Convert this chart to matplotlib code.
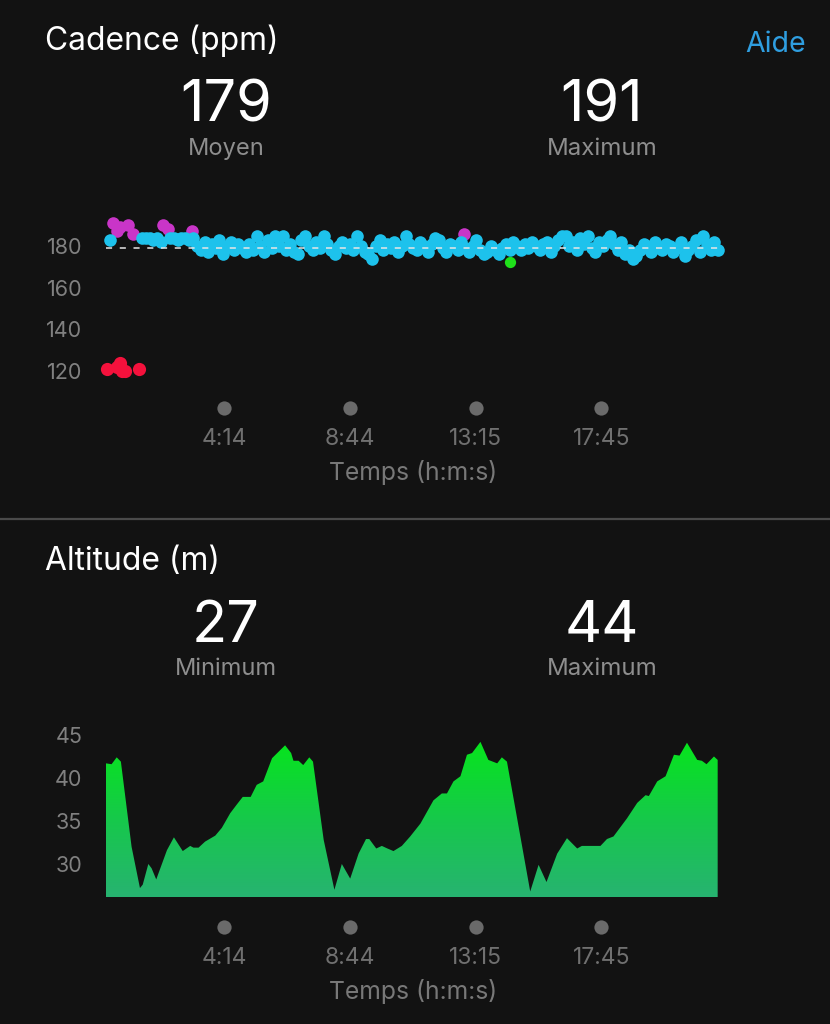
import matplotlib
matplotlib.use("Agg")
import matplotlib.pyplot as plt
import numpy as np
from matplotlib.colors import LinearSegmentedColormap
from matplotlib.lines import Line2D

plt.rcParams['font.family'] = ['Inter', 'DejaVu Sans']

# --- donnees cadence (temps en s, valeur en ppm)
red_t = [2, 23, 30, 34, 41, 72]
red_v = [121, 122, 124, 120, 120, 121]
mag_t = [16, 23, 30, 48, 59, 123, 134, 184, 770]
mag_v = [191, 187, 189, 190, 186, 190, 188, 187, 186]
green_t = [868]
green_v = [172.5]
cyan_t = [9, 78, 86, 94, 102, 110, 118, 138, 146, 154, 162, 170, 178,
          188, 196, 204, 212, 220, 228, 236, 244, 252, 260,
          268, 276, 284, 292, 300, 308, 316, 324, 332, 340,
          348, 356, 364, 372, 380, 388, 396, 404, 412, 420,
          428, 436, 444, 452, 460, 468, 476, 484, 492, 500,
          508, 516, 524, 532, 540, 548, 556, 564, 572, 580,
          588, 596, 604, 612, 620, 628, 636, 644, 652, 660,
          668, 676, 684, 692, 700, 708, 716, 724, 732, 740,
          748, 756, 764, 772, 780, 788, 796, 804, 812, 820,
          828, 836, 844, 852, 860, 868, 876, 884, 892, 900,
          908, 916, 924, 932, 940, 948, 956, 964, 972, 980,
          988, 996, 1004, 1012, 1020, 1028, 1036, 1044, 1052, 1060,
          1068, 1076, 1084, 1092, 1100, 1108, 1116, 1124, 1132, 1140,
          1148, 1156, 1164, 1172, 1180, 1188, 1196, 1204, 1212, 1220,
          1228, 1236, 1244, 1252, 1260, 1268, 1276, 1284, 1292, 1300,
          1308, 1316]
cyan_v = [183, 184, 184, 184, 183, 184, 182, 184, 184, 183, 184, 184, 183,
          184, 180, 178, 182, 177, 181, 179, 183, 176, 180,
          182, 178, 181, 179, 177, 181, 178, 185, 180, 177,
          183, 179, 185, 180, 185, 178, 181, 177, 176, 183,
          185, 180, 178, 182, 179, 185, 181, 178, 176, 180,
          182, 179, 181, 178, 185, 180, 177, 176, 174, 180,
          183, 178, 181, 179, 182, 177, 180, 185, 181, 179,
          178, 182, 180, 177, 181, 184, 183, 179, 177, 181,
          180, 178, 182, 179, 177, 180, 183, 178, 176, 177,
          180, 178, 176, 179, 181, 178, 182, 180, 178, 181,
          179, 182, 180, 178, 181, 182, 177, 180, 183, 185,
          185, 180, 182, 178, 184, 181, 185, 179, 177, 182,
          180, 183, 185, 181, 178, 182, 176, 178, 174, 175,
          178, 181, 180, 177, 182, 179, 178, 181, 180, 177,
          179, 182, 175, 178, 180, 183, 177, 185, 181, 178,
          182, 178]
cad_avg = 179
cad_ticks = [120, 140, 160, 180]

# --- donnees altitude
alt_t = [0, 12, 23, 32, 55, 73, 79, 91, 98, 108, 131, 146, 165, 181, 188, 199,
         213, 235, 249, 267, 281, 294, 311, 324, 338, 357, 385, 398, 403, 414,
         424, 437, 445, 468, 491, 507, 525, 543, 559, 566, 581, 593, 605, 618,
         636, 654, 676, 704, 722, 733, 747, 762, 776, 787, 805, 822, 841, 851,
         862, 912, 930, 947, 970, 991, 1013, 1023, 1063, 1077, 1091, 1120, 1142,
         1160, 1167, 1185, 1203, 1221, 1233, 1249, 1271, 1281, 1291, 1307, 1315]
alt_v = [41.7, 41.6, 42.4, 41.9, 32.0, 27.2, 27.6, 30.0, 29.5, 28.2, 31.6, 33.1,
         31.5, 32.1, 31.9, 31.9, 32.6, 33.3, 34.2, 35.9, 36.9, 37.8, 37.8, 39.2,
         39.6, 42.3, 43.8, 42.9, 42.0, 42.0, 41.5, 42.4, 41.9, 32.8, 27.0, 30.0,
         28.3, 31.2, 32.9, 32.9, 31.8, 32.1, 31.8, 31.5, 32.1, 33.2, 34.7, 37.4,
         38.2, 38.2, 39.6, 40.2, 42.7, 42.9, 44.2, 42.1, 41.7, 42.4, 41.9, 26.8,
         29.9, 27.9, 31.2, 33.0, 31.8, 32.1, 32.1, 32.9, 33.2, 35.3, 37.1, 38.0,
         37.9, 39.6, 40.2, 42.7, 42.6, 44.1, 42.1, 42.0, 41.6, 42.5, 42.1]
alt_ticks = [30, 35, 40, 45]

time_ticks = [254, 524, 795, 1065]
time_labels = ['4:14', '8:44', '13:15', '17:45']

BG = '#121212'
W, H = 830, 1024
fig = plt.figure(figsize=(8.3, 10.24), dpi=100, facecolor=BG)


def box(x0, y0, x1, y1):
    return [x0 / W, 1 - y1 / H, (x1 - x0) / W, (y1 - y0) / H]


def txt(x, y, s, **kw):
    fig.text(x / W, 1 - y / H, s, **kw)


def style(ax, yticks):
    ax.set_facecolor(BG)
    for sp in ax.spines.values():
        sp.set_visible(False)
    ax.set_yticks(yticks)
    ax.tick_params(axis='y', length=0, pad=17, labelsize=15.5, labelcolor='#808080')
    ax.set_xticks([])
    ax.set_xlim(0, 1320)


def time_axis(ax, top, bottom, off):
    # points gris sous l'axe + libelles de temps
    ax.scatter(time_ticks, [-(408 + off - bottom) / (bottom - top)] * 4,
               s=105, color='#6a6a6a', lw=0, transform=ax.get_xaxis_transform(),
               clip_on=False)
    for t, lab in zip(time_ticks, time_labels):
        x = 106 + t * 614 / 1320
        txt(x, 445 + off, lab, ha='center', va='baseline', fontsize=16.5, color='#707070')
    txt(413, 480 + off, 'Temps (h:m:s)', ha='center', va='baseline', fontsize=17.8, color='#787878')


def header(off, title, v1, l1, v2, l2):
    txt(45, 50 + off, title, ha='left', va='baseline', fontsize=22.9, color='white')
    txt(226, 122 + off, v1, ha='center', va='baseline', fontsize=41.5, color='white')
    txt(226, 155 + off, l1, ha='center', va='baseline', fontsize=17, color='#8e8e8e')
    txt(602, 122 + off, v2, ha='center', va='baseline', fontsize=41.5, color='white')
    txt(602, 155 + off, l2, ha='center', va='baseline', fontsize=17.3, color='#8e8e8e')


# ---------- Cadence
header(0, 'Cadence (ppm)', '179', 'Moyen', '191', 'Maximum')
txt(806, 52, 'Aide', ha='right', va='baseline', fontsize=20.5, color='#2f9ee0')

ax1 = fig.add_axes(box(106, 210, 720, 385))
style(ax1, cad_ticks)
ax1.set_ylim(113.3, 197.3)
ms = 82
ax1.scatter(mag_t, mag_v, s=ms, color='#c935c8', lw=0, clip_on=False, zorder=2)
ax1.scatter(cyan_t, cyan_v, s=ms, color='#1dc2ec', lw=0, clip_on=False, zorder=3)
ax1.scatter(red_t, red_v, s=ms * 1.1, color='#f4113c', lw=0, clip_on=False, zorder=4)
ax1.scatter(green_t, green_v, s=ms * 0.8, color='#1fe01a', lw=0, clip_on=False, zorder=4)
ax1.axhline(cad_avg, color='#e6e6e6', lw=1.1, linestyle=(0, (4, 5)), zorder=5)
time_axis(ax1, 210, 385, 0)

# separateur
fig.add_artist(Line2D([0, 1], [1 - 519 / H, 1 - 519 / H], color='#4a4a4a', lw=1.6,
                      transform=fig.transFigure))

# ---------- Altitude
header(520, 'Altitude (m)', '27', 'Minimum', '44', 'Maximum')

ax2 = fig.add_axes(box(106, 720, 720, 897))
style(ax2, alt_ticks)
y0 = 26.16
poly = ax2.fill_between(alt_t, alt_v, y0, facecolor='none', lw=0)
cmap = LinearSegmentedColormap.from_list('alt', ['#27b371', '#16c94a', '#06e61b'])
grad = np.linspace(0, 1, 256).reshape(-1, 1)
im = ax2.imshow(grad, cmap=cmap, origin='lower', aspect='auto',
                extent=[0, 1320, y0, 44.5], zorder=2)
im.set_clip_path(poly.get_paths()[0], transform=ax2.transData)
ax2.set_xlim(0, 1320)
ax2.set_ylim(y0, 46.74)
time_axis(ax2, 720, 897, 519)

fig.savefig('out.png', dpi=100, facecolor=BG)
